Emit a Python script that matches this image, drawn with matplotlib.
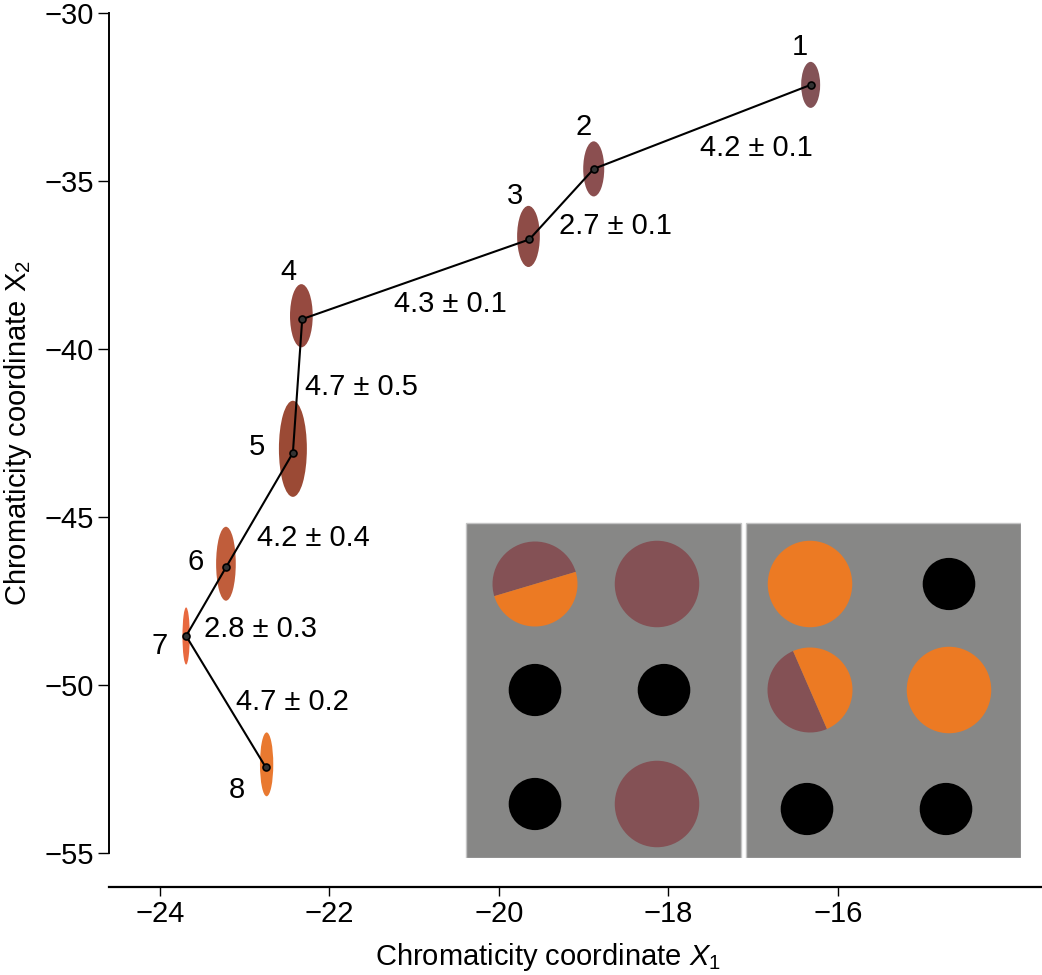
import matplotlib
matplotlib.use("Agg")
import matplotlib.pyplot as plt
from matplotlib.patches import Ellipse, Wedge, Rectangle

plt.rcParams['font.family'] = ['Liberation Sans', 'DejaVu Sans']
plt.rcParams['mathtext.fontset'] = 'custom'
plt.rcParams['mathtext.rm'] = 'Liberation Sans'
plt.rcParams['mathtext.it'] = 'Liberation Sans:italic'

# chromaticity of each stimulus step
step_labels = ['1', '2', '3', '4', '5', '6', '7', '8']
x1 = [-16.32, -18.88, -19.64, -22.32, -22.43, -23.22, -23.69, -22.75]
x2 = [-32.13, -34.63, -36.73, -39.10, -43.08, -46.49, -48.53, -52.44]

# uncertainty ellipses (centre, full width, full height)
ell_x = [-16.32, -18.88, -19.65, -22.33, -22.43, -23.22, -23.69, -22.74]
ell_y = [-32.13, -34.63, -36.64, -39.00, -42.96, -46.38, -48.53, -52.35]
ell_w = [0.224, 0.248, 0.268, 0.268, 0.330, 0.232, 0.086, 0.157]
ell_h = [1.37, 1.64, 1.82, 1.88, 2.86, 2.20, 1.70, 1.90]
ell_colors = ['#835256', '#8b4f50', '#8e4c47', '#964a40', '#9b4a35',
              '#c05d3b', '#e8693f', '#e97930']

# distance between consecutive steps
dist = [4.2, 2.7, 4.3, 4.7, 4.2, 2.8, 4.7]
dist_err = [0.1, 0.1, 0.1, 0.5, 0.4, 0.3, 0.2]

# label offsets (points)
num_offsets = [(-8, 27), (-7, 30), (-10, 31), (-10, 34), (-26, 4), (-22, 4), (-19, -7), (-21, -16)]
dist_offsets = [(39, -15), (39, -16), (25, -18), (46, -1), (39, -20), (39, -20), (48, 0)]

# inset stimulus: (panel, column, row, kind)
stim = [
    (0, 0, 0, 'split_a'), (0, 1, 0, 'mauve'),
    (0, 0, 1, 'black'), (0, 1, 1, 'black'),
    (0, 0, 2, 'black'), (0, 1, 2, 'mauve'),
    (1, 0, 0, 'orange'), (1, 1, 0, 'black'),
    (1, 0, 1, 'split_b'), (1, 1, 1, 'orange'),
    (1, 0, 2, 'black'), (1, 1, 2, 'black'),
]
mauve = '#845155'
orange = '#ec7a23'
panel_grey = '#878786'

fs = 21

fig = plt.figure(figsize=(10.42, 9.75), dpi=100)
ax = fig.add_axes([109 / 1042, 1 - 887 / 975, 1 - 109 / 1042, (887 - 13.3) / 975])

for cx, cy, w, h, c in zip(ell_x, ell_y, ell_w, ell_h, ell_colors):
    ax.add_patch(Ellipse((cx, cy), w, h, facecolor=c, edgecolor='none', zorder=1))

ax.plot(x1, x2, '-', color='black', lw=1.5, marker='o', ms=5,
        mfc='#333333', mec='black', mew=1.2, zorder=3)

for lab, x, y, off in zip(step_labels, x1, x2, num_offsets):
    ax.annotate(lab, (x, y), xytext=off, textcoords='offset points',
                ha='center', va='center', fontsize=fs)

for i in range(len(dist)):
    mx = (x1[i] + x1[i + 1]) / 2
    my = (x2[i] + x2[i + 1]) / 2
    ax.annotate(f'{dist[i]} \u00b1 {dist_err[i]}', (mx, my), xytext=dist_offsets[i],
                textcoords='offset points', ha='center', va='center', fontsize=fs)

ax.set_xlim(-24.60, -13.59)
ax.set_ylim(-56.0, -30.0)
ax.set_xticks([-24, -22, -20, -18, -16])
ax.set_yticks([-55, -50, -45, -40, -35, -30])
ax.spines['top'].set_visible(False)
ax.spines['right'].set_visible(False)
ax.spines['left'].set_bounds(-55, -30)
ax.spines['left'].set_linewidth(1.4)
ax.spines['bottom'].set_linewidth(1.6)
ax.tick_params(axis='x', length=6.5, width=1.0, labelsize=fs, pad=3)
ax.tick_params(axis='y', length=8, width=1.0, labelsize=fs, pad=3)
ax.set_xlabel('Chromaticity coordinate $X_1$', fontsize=fs)
ax.set_ylabel('Chromaticity coordinate X$_\\mathrm{2}$', fontsize=fs)
ax.xaxis.set_label_coords(0.4705, -0.062)
ax.yaxis.set_label_coords(-0.080, 0.52)

# inset with the two stimulus panels (units: pixels of the inset)
ins = fig.add_axes([465 / 1042, 1 - 858 / 975, 556 / 1042, 336 / 975])
ins.set_xlim(0, 556)
ins.set_ylim(0, 336)
ins.axis('off')
panel_x = [0.5, 280.5]
panel_w = 275.5
col_x = [[70, 192], [345, 484]]
row_y = [274, 168, 54]
for px in panel_x:
    ins.add_patch(Rectangle((px, 0.5), panel_w, 335, facecolor=panel_grey,
                            edgecolor='#c4c4c4', lw=1))
for panel, col, row, kind in stim:
    cx = col_x[panel][col]
    cy = row_y[row]
    if kind == 'black':
        if panel == 0 and col == 1:
            cx += 7
        if panel == 1 and row == 2:
            cx -= 3
            cy -= 5
        ins.add_patch(Ellipse((cx, cy), 52.6, 52.2, facecolor='black', edgecolor='none'))
    elif kind in ('mauve', 'orange'):
        c = mauve if kind == 'mauve' else orange
        ins.add_patch(Ellipse((cx, cy), 84.5, 86.5, facecolor=c, edgecolor='none'))
    else:
        ang = 16.6 if kind == 'split_a' else 113.5
        ins.add_patch(Wedge((cx, cy), 42.5, ang, ang + 180, facecolor=mauve, edgecolor='none'))
        ins.add_patch(Wedge((cx, cy), 42.5, ang + 180, ang + 360, facecolor=orange, edgecolor='none'))

fig.savefig('out.png', dpi=100)
